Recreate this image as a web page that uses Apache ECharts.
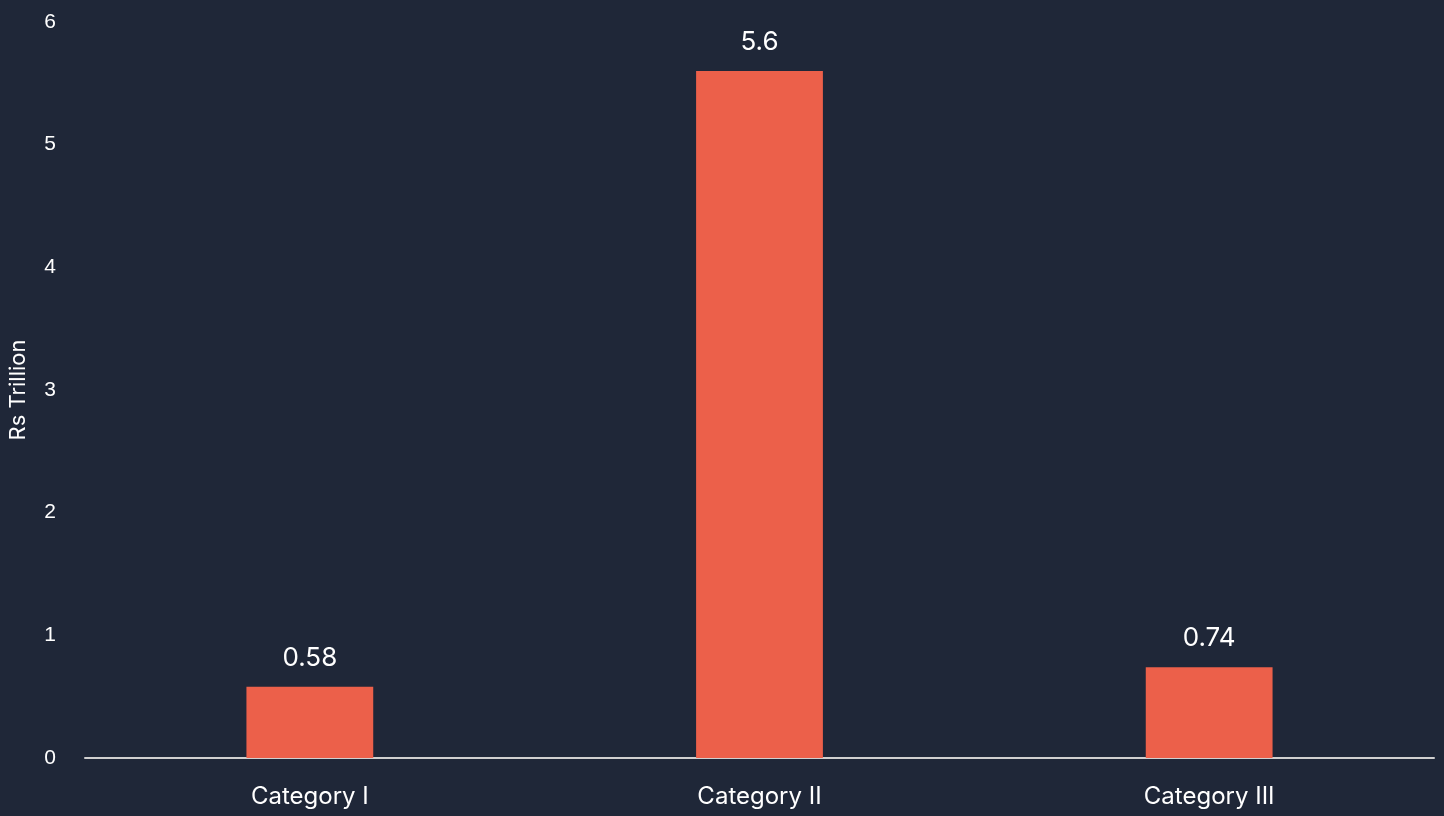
<!DOCTYPE html>
<html>
<head>
<meta charset="utf-8">
<script src="https://cdn.jsdelivr.net/npm/echarts@6/dist/echarts.min.js"></script>
<style>
  html, body { margin: 0; padding: 0; background: #1f2738; }
  #chart { width: 1444px; height: 816px; }
</style>
</head>
<body>
<div id="chart"></div>
<script>
const categories = ["Category I", "Category II", "Category III"];
const values = [0.58, 5.6, 0.74];
const yTicks = { min: 0, max: 6, interval: 1 };

const chart = echarts.init(document.getElementById("chart"));
chart.setOption({
  backgroundColor: "#1f2738",
  animation: false,
  grid: { left: 85, right: 10, top: 22, bottom: 58, containLabel: false, outerBoundsMode: "none" },
  xAxis: {
    type: "category",
    data: categories,
    axisLine: { lineStyle: { color: "#d0d0d0", width: 2 } },
    axisTick: { show: false },
    axisLabel: { color: "#ffffff", fontFamily: "Inter", fontSize: 24, margin: 27 }
  },
  yAxis: {
    type: "value",
    min: yTicks.min,
    max: yTicks.max,
    interval: yTicks.interval,
    name: "Rs Trillion",
    nameLocation: "middle",
    nameGap: 56,
    nameTextStyle: { color: "#ffffff", fontFamily: "Inter", fontSize: 22 },
    splitLine: { show: false },
    axisLine: { show: false },
    axisTick: { show: false },
    axisLabel: { color: "#ffffff", fontFamily: "Liberation Sans", fontSize: 21, margin: 29 }
  },
  series: [{
    type: "bar",
    data: values,
    barWidth: "28.2%",
    itemStyle: { color: "#ec604a" },
    label: {
      show: true,
      position: "top",
      distance: 16,
      color: "#ffffff",
      fontFamily: "Inter",
      fontSize: 26
    }
  }]
});
</script>
</body>
</html>
